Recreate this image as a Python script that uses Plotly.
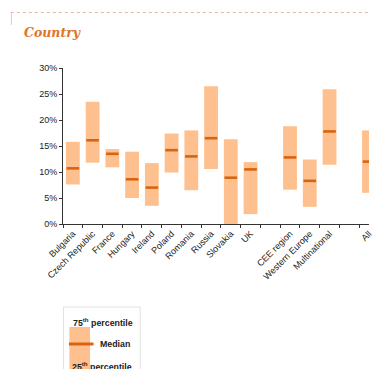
import plotly.graph_objects as go

# ---- data ----
categories = ["Bulgaria", "Czech Republic", "France", "Hungary", "Ireland", "Poland",
              "Romania", "Russia", "Slovakia", "UK", "CEE region", "Western Europe",
              "Multinational", "All"]
axis_order = ["Bulgaria", "Czech Republic", "France", "Hungary", "Ireland", "Poland",
              "Romania", "Russia", "Slovakia", "UK", " ", "CEE region", "Western Europe",
              "Multinational", "  ", "All"]
p25 = [7.6, 11.8, 10.9, 5.0, 3.5, 9.9, 6.5, 10.6, 0.0, 1.9, 6.6, 3.3, 11.4, 6.0]
median = [10.7, 16.1, 13.5, 8.6, 7.0, 14.2, 13.0, 16.5, 8.9, 10.5, 12.8, 8.3, 17.8, 12.0]
p75 = [15.8, 23.5, 14.4, 13.9, 11.7, 17.4, 18.0, 26.5, 16.3, 11.9, 18.8, 12.4, 25.9, 18.0]
y_ticks = [0, 5, 10, 15, 20, 25, 30]
y_ticklabels = ["0%", "5%", "10%", "15%", "20%", "25%", "30%"]

W, H = 374, 369
ML, MR, MT, MB = 63, 0, 68, 145
BAR = "#FDC08E"
MED = "#D9640F"
FONT = "Liberation Sans, Arial, sans-serif"

def px(x):
    return (x - ML) / (W - ML - MR)

def py(y):
    return (H - MB - y) / (H - MT - MB)

fig = go.Figure()
fig.add_trace(go.Bar(
    x=categories, y=[h - l for h, l in zip(p75, p25)], base=p25,
    width=0.7, marker=dict(color=BAR, line=dict(width=0)), hoverinfo="skip",
))
fig.add_trace(go.Scatter(
    x=categories, y=median, mode="markers",
    marker=dict(symbol="line-ew", size=9, line=dict(width=2.6, color=MED)),
    hoverinfo="skip",
))

shapes = [
    # dotted header rule
    dict(type="line", xref="paper", yref="paper", x0=px(10), x1=px(374), y0=py(12.5), y1=py(12.5),
         line=dict(color="#E8B89A", width=1, dash="dot")),
    dict(type="line", xref="paper", yref="paper", x0=px(10.5), x1=px(10.5), y0=py(12.5), y1=py(25),
         line=dict(color="#E3C8C0", width=1)),
    # legend box
    dict(type="rect", xref="paper", yref="paper", x0=px(63.5), x1=px(141.5), y0=py(307), y1=py(372),
         line=dict(color="#E2E2E2", width=1), fillcolor="white", layer="below"),
    dict(type="rect", xref="paper", yref="paper", x0=px(69.5), x1=px(90.5), y0=py(327), y1=py(372),
         line=dict(width=0), fillcolor=BAR),
    dict(type="line", xref="paper", yref="paper", x0=px(69), x1=px(94), y0=py(344), y1=py(344),
         line=dict(color=MED, width=3)),
]

annotations = [
    dict(text="<b><i>Country</i></b>", xref="paper", yref="paper", x=px(21), y=py(33),
         xanchor="left", yanchor="middle", showarrow=False,
         font=dict(family="DejaVu Serif, serif", size=12.5, color="#E07428")),
    dict(text="<b>75<sup>th</sup> percentile</b>", xref="paper", yref="paper", x=px(71), y=py(322),
         xanchor="left", yanchor="middle", showarrow=False,
         font=dict(family=FONT, size=8.8, color="#222")),
    dict(text="<b>Median</b>", xref="paper", yref="paper", x=px(98.5), y=py(344),
         xanchor="left", yanchor="middle", showarrow=False,
         font=dict(family=FONT, size=8.8, color="#222")),
    dict(text="<b>25<sup>th</sup> percentile</b>", xref="paper", yref="paper", x=px(70.5), y=py(366),
         xanchor="left", yanchor="middle", showarrow=False,
         font=dict(family=FONT, size=8.8, color="#222")),
]

fig.update_layout(
    width=W, height=H, margin=dict(l=ML, r=MR, t=MT, b=MB),
    paper_bgcolor="white", plot_bgcolor="white", showlegend=False,
    shapes=shapes, annotations=annotations,
    xaxis=dict(type="category", categoryorder="array", categoryarray=axis_order,
               range=[-0.5, 15.0], tickson="boundaries", ticks="outside", ticklen=3,
               tickcolor="#333", showline=True, linecolor="#333", linewidth=1,
               showgrid=False, tickangle=-45,
               tickfont=dict(family=FONT, size=9, color="#222")),
    yaxis=dict(range=[0, 30], tickvals=y_ticks, ticktext=y_ticklabels, ticks="outside",
               ticklen=3, tickcolor="#333", showline=True, linecolor="#333", linewidth=1,
               showgrid=False, zeroline=False,
               tickfont=dict(family=FONT, size=9, color="#222")),
)

fig.write_html("out.html")
